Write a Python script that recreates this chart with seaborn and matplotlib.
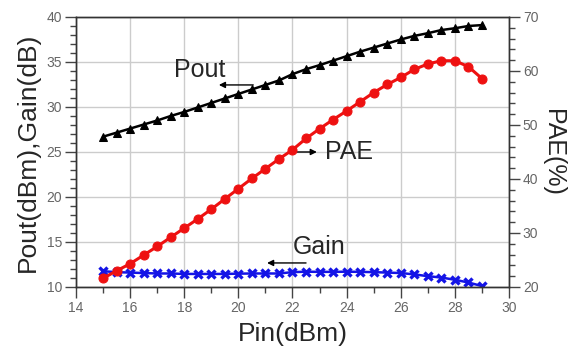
import numpy as np
import pandas as pd
import seaborn as sns
import matplotlib.pyplot as plt
from matplotlib.ticker import MultipleLocator


pin = [15.0, 15.5, 16.0, 16.5, 17.0, 17.5, 18.0, 18.5, 19.0, 19.5,
       20.0, 20.5, 21.0, 21.5, 22.0, 22.5, 23.0, 23.5, 24.0, 24.5,
       25.0, 25.5, 26.0, 26.5, 27.0, 27.5, 28.0, 28.5, 29.0]
pout = [26.7, 27.15, 27.6, 28.05, 28.5, 29.0, 29.45, 29.95, 30.45, 30.95,
        31.45, 31.95, 32.45, 32.95, 33.65, 34.2, 34.65, 35.15, 35.65, 36.15,
        36.6, 37.05, 37.5, 37.9, 38.2, 38.55, 38.75, 39.0, 39.1]
gain = [11.75, 11.65, 11.6, 11.55, 11.5, 11.5, 11.45, 11.45, 11.45, 11.45,
        11.48, 11.5, 11.5, 11.5, 11.65, 11.7, 11.68, 11.68, 11.7, 11.68,
        11.65, 11.6, 11.55, 11.4, 11.2, 11.05, 10.8, 10.5, 10.1]
pae = [21.6, 23.0, 24.3, 25.9, 27.5, 29.2, 30.9, 32.6, 34.4, 36.3,
       38.2, 40.1, 41.9, 43.7, 45.4, 47.5, 49.3, 51.0, 52.6, 54.3,
       56.0, 57.5, 58.8, 60.3, 61.3, 61.9, 61.9, 60.8, 58.6]

sns.set_theme(style='ticks')
plt.rcParams['font.family'] = ['Liberation Sans', 'DejaVu Sans']

df = pd.DataFrame({'pin': pin, 'pout': pout, 'gain': gain, 'pae': pae})

fig = plt.figure(figsize=(5.7, 3.49), dpi=100)
ax = fig.add_axes([0.1333, 0.1777, 0.7597, 0.7736])
ax2 = ax.twinx()

sns.lineplot(data=df, x='pin', y='pout', ax=ax, color='black', lw=1.8,
             marker='^', markersize=6, markeredgecolor='black')
sns.lineplot(data=df, x='pin', y='gain', ax=ax, color='#1414e6', lw=1.8,
             marker='x', markersize=6, markeredgewidth=2.4, markeredgecolor='#1414e6')
sns.lineplot(data=df, x='pin', y='pae', ax=ax2, color='#ee1111', lw=2.2,
             marker='o', markersize=6.5, markeredgecolor='#ee1111')

ax.set_xlim(14, 30)
ax.set_ylim(10, 40)
ax2.set_ylim(20, 70)
ax.xaxis.set_major_locator(MultipleLocator(2))
ax.xaxis.set_minor_locator(MultipleLocator(1))
ax.yaxis.set_major_locator(MultipleLocator(5))
ax.yaxis.set_minor_locator(MultipleLocator(1))
ax2.yaxis.set_major_locator(MultipleLocator(10))
ax2.yaxis.set_minor_locator(MultipleLocator(2))

ax.grid(True, which='major', color='#cccccc', lw=1)
ax.set_axisbelow(True)

for a in (ax, ax2):
    a.tick_params(which='major', length=8, width=1, color='#444444',
                  labelsize=10, labelcolor='#666666', pad=2)
    a.tick_params(which='minor', length=4, width=1, color='#444444')
    for s in a.spines.values():
        s.set_color('#333333')
        s.set_linewidth(1)

ax.set_xlabel('Pin(dBm)', fontsize=19, labelpad=5)
ax.set_ylabel('Pout(dBm),Gain(dB)', fontsize=19, labelpad=5)
ax2.set_ylabel('PAE(%)', fontsize=18, rotation=270, labelpad=19)

arrow = dict(arrowstyle='-|>', color='black', lw=1, mutation_scale=9, shrinkA=0, shrinkB=0)
ax.annotate('', xy=(19.28, 32.45), xytext=(20.55, 32.45), arrowprops=arrow)
ax.text(18.56, 34.1, 'Pout', fontsize=18, ha='center', va='center')
ax.annotate('', xy=(22.9, 25.0), xytext=(22.0, 25.0), arrowprops=arrow)
ax.text(23.2, 24.95, 'PAE', fontsize=18, ha='left', va='center')
ax.annotate('', xy=(21.06, 12.67), xytext=(22.5, 12.67), arrowprops=arrow)
ax.text(22.02, 14.45, 'Gain', fontsize=18, ha='left', va='center')

fig.savefig('out.png', dpi=100)
